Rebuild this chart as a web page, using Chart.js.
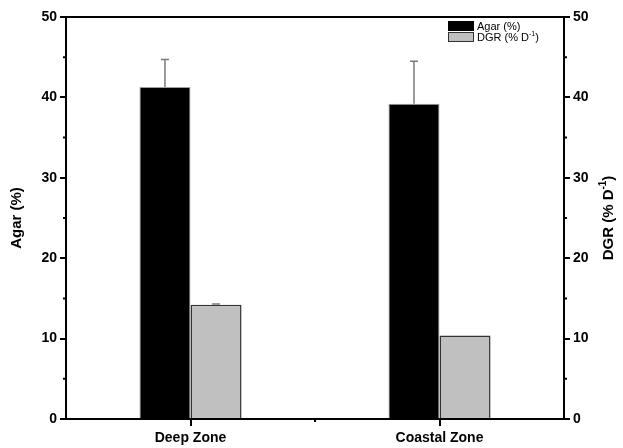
<!DOCTYPE html>
<html>
<head>
<meta charset="utf-8">
<script src="https://cdn.jsdelivr.net/npm/chart.js@4.4.1/dist/chart.umd.min.js"></script>
<style>
  html, body { margin: 0; padding: 0; background: #fff; }
  #wrap { width: 623px; height: 448px; }
</style>
</head>
<body>
<div id="wrap"><canvas id="chart" width="623" height="448"></canvas></div>
<script>
// data
const zones = ["Deep Zone", "Coastal Zone"];
const agar = [41.3, 39.2];
const agarErr = [3.4, 5.3];
const dgr = [14.2, 10.4];
const dgrErr = [0.1, 0];
const minorTicks = [5, 15, 25, 35, 45];

const FONT = "'Liberation Sans', Arial, sans-serif";

// error bars, minor ticks, top frame, right title, legend
const extras = {
  id: "extras",
  afterDatasetsDraw(chart) {
    const ctx = chart.ctx;
    const y = chart.scales.y;
    const errs = [agarErr, dgrErr];
    ctx.save();
    ctx.strokeStyle = "#7a7a7a";
    ctx.lineWidth = 1.5;
    errs.forEach((err, i) => {
      const meta = chart.getDatasetMeta(i);
      const vals = chart.data.datasets[i].data;
      meta.data.forEach((bar, j) => {
        if (!err[j]) return;
        const top = y.getPixelForValue(vals[j] + err[j]);
        const base = y.getPixelForValue(vals[j]);
        ctx.beginPath();
        ctx.moveTo(bar.x, base);
        ctx.lineTo(bar.x, top);
        ctx.moveTo(bar.x - 4, top);
        ctx.lineTo(bar.x + 4, top);
        ctx.stroke();
      });
    });
    ctx.restore();
  },
  afterDraw(chart) {
    const ctx = chart.ctx;
    const area = chart.chartArea;
    const y = chart.scales.y;
    const x = chart.scales.x;
    ctx.save();
    ctx.strokeStyle = "#000";
    ctx.lineWidth = 2;
    // top frame
    ctx.beginPath();
    ctx.moveTo(area.left - 1, area.top);
    ctx.lineTo(area.right + 1, area.top);
    ctx.stroke();
    // minor ticks on both y axes
    ctx.beginPath();
    minorTicks.forEach(v => {
      const py = y.getPixelForValue(v);
      ctx.moveTo(area.left, py);
      ctx.lineTo(area.left - 3, py);
      ctx.moveTo(area.right, py);
      ctx.lineTo(area.right + 3, py);
    });
    const mid = Math.round((x.getPixelForValue(0) + x.getPixelForValue(1)) / 2);
    ctx.moveTo(mid, area.bottom);
    ctx.lineTo(mid, area.bottom + 3);
    ctx.stroke();
    // ticks under each zone
    const centres = chart.getDatasetMeta(0).data.map((b, i) =>
      (b.x + chart.getDatasetMeta(1).data[i].x) / 2);
    ctx.beginPath();
    centres.forEach(px => {
      ctx.moveTo(Math.round(px), area.bottom);
      ctx.lineTo(Math.round(px), area.bottom + 7);
    });
    ctx.stroke();

    // right axis title, reading bottom to top
    ctx.fillStyle = "#000";
    ctx.translate(609, (area.top + area.bottom) / 2);
    ctx.rotate(-Math.PI / 2);
    ctx.textBaseline = "middle";
    const main = "DGR (% D";
    const sup = "-1";
    const tail = ")";
    ctx.font = "bold 15px " + FONT;
    const w1 = ctx.measureText(main).width;
    const w3 = ctx.measureText(tail).width;
    ctx.font = "bold 10px " + FONT;
    const w2 = ctx.measureText(sup).width;
    let sx = -(w1 + w2 + w3) / 2;
    ctx.textAlign = "left";
    ctx.font = "bold 15px " + FONT;
    ctx.fillText(main, sx, 0);
    ctx.font = "bold 10px " + FONT;
    ctx.fillText(sup, sx + w1, -6);
    ctx.font = "bold 15px " + FONT;
    ctx.fillText(tail, sx + w1 + w2, 0);
    ctx.restore();

    // legend in the top right corner
    ctx.save();
    const lx = 448, ly = 21;
    const items = [
      { text: "Agar (%)", fill: "#000", stroke: "#000", sup: null },
      { text: "DGR (% D", fill: "#c0c0c0", stroke: "#333", sup: "-1" }
    ];
    items.forEach((it, k) => {
      const ty = ly + k * 11;
      ctx.fillStyle = it.fill;
      ctx.fillRect(lx, ty, 26, 10);
      ctx.strokeStyle = it.stroke;
      ctx.lineWidth = 1;
      ctx.strokeRect(lx + 0.5, ty + 0.5, 25, 9);
      ctx.fillStyle = "#000";
      ctx.font = "11px " + FONT;
      ctx.textBaseline = "middle";
      ctx.textAlign = "left";
      ctx.fillText(it.text, lx + 29, ty + 5.5);
      if (it.sup) {
        const w = ctx.measureText(it.text).width;
        ctx.font = "7px " + FONT;
        ctx.fillText(it.sup, lx + 29 + w, ty + 2);
        const ws = ctx.measureText(it.sup).width;
        ctx.font = "11px " + FONT;
        ctx.fillText(")", lx + 29 + w + ws, ty + 5.5);
      }
    });
    ctx.restore();
  }
};

new Chart(document.getElementById("chart"), {
  type: "bar",
  data: {
    labels: zones,
    datasets: [
      {
        label: "Agar (%)",
        data: agar,
        yAxisID: "y",
        backgroundColor: "#000000",
        borderColor: "#a0a0a0",
        borderWidth: 1
      },
      {
        label: "DGR (% D-1)",
        data: dgr,
        yAxisID: "y1",
        backgroundColor: "#c0c0c0",
        borderColor: "#333333",
        borderWidth: 1.5
      }
    ]
  },
  options: {
    responsive: false,
    animation: false,
    layout: { padding: { top: 17, left: 0, right: 0, bottom: 0 } },
    datasets: {
      bar: { categoryPercentage: 0.41, barPercentage: 1.0 }
    },
    plugins: {
      legend: { display: false },
      tooltip: { enabled: false }
    },
    scales: {
      x: {
        afterFit(scale) { scale.height = 29; },
        grid: { display: true, drawOnChartArea: false, drawTicks: false, color: "#000", lineWidth: 0 },
        border: { display: true, color: "#000", width: 2 },
        ticks: { color: "#000", padding: 11, font: { family: FONT, size: 14, weight: "bold" } }
      },
      y: {
        position: "left",
        min: 0,
        max: 50,
        afterFit(scale) { scale.width = 66; },
        ticks: { stepSize: 10, color: "#000", padding: 3, font: { family: FONT, size: 14, weight: "bold" } },
        grid: { display: true, drawOnChartArea: false, tickLength: 6, color: "#000", lineWidth: 2 },
        border: { display: true, color: "#000", width: 2 },
        title: {
          display: true,
          text: "Agar (%)",
          color: "#000",
          padding: { top: 8, bottom: 0 },
          font: { family: FONT, size: 15, weight: "bold" }
        }
      },
      y1: {
        position: "right",
        min: 0,
        max: 50,
        afterFit(scale) { scale.width = 59; },
        ticks: { stepSize: 10, color: "#000", padding: 3, font: { family: FONT, size: 14, weight: "bold" } },
        grid: { display: true, drawOnChartArea: false, tickLength: 6, color: "#000", lineWidth: 2 },
        border: { display: true, color: "#000", width: 2 }
      }
    }
  },
  plugins: [extras]
});
</script>
</body>
</html>
